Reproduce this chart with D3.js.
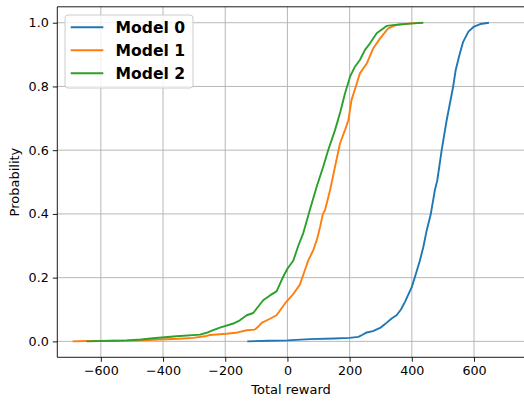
<!DOCTYPE html>
<html><head><meta charset="utf-8">
<script src="https://cdn.jsdelivr.net/npm/d3@7"></script>
<style>body{margin:0;background:#fff}svg{display:block}text{font-family:"DejaVu Sans",sans-serif}</style>
</head><body><svg id="c" width="524" height="403"></svg>
<script>
const seriesNames = ["Model 0", "Model 1", "Model 2"];
const colors = ["#1f77b4", "#ff7f0e", "#2ca02c"];
// [total reward, cumulative probability]
const model0 = [[-129,0],[-60,0.002],[0,0.003],[72,0.007],[150,0.009],[200,0.011],[228,0.014],[240,0.02],[255,0.028],[275,0.032],[298,0.042],[315,0.055],[335,0.072],[351,0.082],[365,0.1],[378,0.124],[400,0.171],[410,0.202],[426,0.254],[437,0.296],[448,0.349],[461,0.40],[474,0.474],[482,0.506],[496,0.60],[512,0.694],[533,0.80],[541,0.851],[552,0.895],[565,0.94],[582,0.972],[600,0.988],[620,0.996],[648,1.0]];
const model1 = [[-691,0],[-646,0.001],[-520,0.002],[-464,0.003],[-410,0.006],[-350,0.008],[-303,0.011],[-260,0.017],[-249,0.02],[-196,0.024],[-160,0.028],[-131,0.035],[-105,0.037],[-95,0.045],[-83,0.058],[-56,0.071],[-35,0.082],[-24,0.097],[-3,0.125],[20,0.15],[40,0.178],[56,0.223],[67,0.254],[83,0.286],[95,0.32],[105,0.359],[114,0.40],[121,0.412],[137,0.474],[153,0.548],[169,0.621],[185,0.663],[196,0.694],[206,0.757],[220,0.80],[233,0.841],[255,0.872],[276,0.92],[298,0.951],[324,0.982],[351,0.993],[400,0.998],[428,1.0]];
const model2 = [[-646,0],[-560,0.002],[-517,0.003],[-470,0.006],[-432,0.01],[-357,0.016],[-281,0.021],[-260,0.027],[-239,0.035],[-217,0.043],[-174,0.056],[-153,0.066],[-131,0.082],[-110,0.089],[-78,0.129],[-55,0.145],[-35,0.157],[-14,0.202],[0,0.228],[19,0.254],[35,0.30],[51,0.34],[72,0.412],[94,0.485],[115,0.548],[131,0.60],[153,0.663],[170,0.72],[185,0.778],[201,0.83],[217,0.862],[233,0.883],[249,0.914],[265,0.935],[287,0.967],[319,0.99],[360,0.995],[405,0.998],[437,1.0]];
const series = [model0, model1, model2];
const xTicks = [-600, -400, -200, 0, 200, 400, 600];
const yTicks = [0.0, 0.2, 0.4, 0.6, 0.8, 1.0];
const xLabel = "Total reward", yLabel = "Probability";

const svg = d3.select("#c");
const L = 57.3, R = 530, T = 6.8, B = 357.3;
const x = d3.scaleLinear().domain([-740, 780]).range([L, R]);
const y = d3.scaleLinear().domain([-0.05, 1.05]).range([B, T]);

svg.append("clipPath").attr("id","clip").append("rect").attr("x",L).attr("y",T).attr("width",R-L).attr("height",B-T);

// grid
const g = svg.append("g");
g.selectAll(".vg").data(xTicks).join("line").attr("x1",d=>x(d)).attr("x2",d=>x(d)).attr("y1",T).attr("y2",B)
 .attr("stroke","#b0b0b0").attr("stroke-width",0.9);
g.selectAll(".hg").data(yTicks).join("line").attr("x1",L).attr("x2",R).attr("y1",d=>y(d)).attr("y2",d=>y(d))
 .attr("stroke","#b0b0b0").attr("stroke-width",0.9);

// axes
const xa = svg.append("g").attr("transform",`translate(0,${B})`)
 .call(d3.axisBottom(x).tickValues(xTicks).tickSize(4.5).tickPadding(4).tickFormat(d3.format("d")));
const ya = svg.append("g").attr("transform",`translate(${L},0)`)
 .call(d3.axisLeft(y).tickValues(yTicks).tickSize(4.5).tickPadding(4).tickFormat(d3.format(".1f")));
[xa, ya].forEach(a => { a.select(".domain").remove(); a.selectAll("text").attr("font-size",12.7).attr("fill","#000").attr("font-family","DejaVu Sans"); a.selectAll("line").attr("stroke","#000").attr("stroke-width",0.9); });

// spines
svg.append("line").attr("x1",L).attr("x2",L).attr("y1",T).attr("y2",B).attr("stroke","#000").attr("stroke-width",0.9);
svg.append("line").attr("x1",L).attr("x2",R).attr("y1",B).attr("y2",B).attr("stroke","#000").attr("stroke-width",0.9);
svg.append("line").attr("x1",L).attr("x2",R).attr("y1",T).attr("y2",T).attr("stroke","#000").attr("stroke-width",0.9);

// lines
const line = d3.line().x(d=>x(d[0])).y(d=>y(d[1]));
svg.append("g").attr("clip-path","url(#clip)").selectAll("path").data(series).join("path")
 .attr("d",line).attr("fill","none").attr("stroke",(d,i)=>colors[i]).attr("stroke-width",1.9).attr("stroke-linejoin","round");

// labels
svg.append("text").attr("x",291).attr("y",394).attr("text-anchor","middle").attr("font-size",13).text(xLabel);
svg.append("text").attr("transform",`translate(18.5,${(T+B)/2}) rotate(-90)`).attr("text-anchor","middle").attr("font-size",13).text(yLabel);

// legend
const lg = svg.append("g");
lg.append("rect").attr("x",65).attr("y",15).attr("width",128).attr("height",73).attr("rx",3)
 .attr("fill","#fff").attr("fill-opacity",0.8).attr("stroke","#cccccc").attr("stroke-width",1);
seriesNames.forEach((n,i)=>{
  const yy = 27.3 + i*23;
  lg.append("line").attr("x1",70.7).attr("x2",103.3).attr("y1",yy).attr("y2",yy).attr("stroke",colors[i]).attr("stroke-width",1.9);
  lg.append("text").attr("x",115.5).attr("y",yy).attr("dy","0.36em").attr("font-size",15.6).attr("font-weight","bold").text(n);
});
</script></body></html>
